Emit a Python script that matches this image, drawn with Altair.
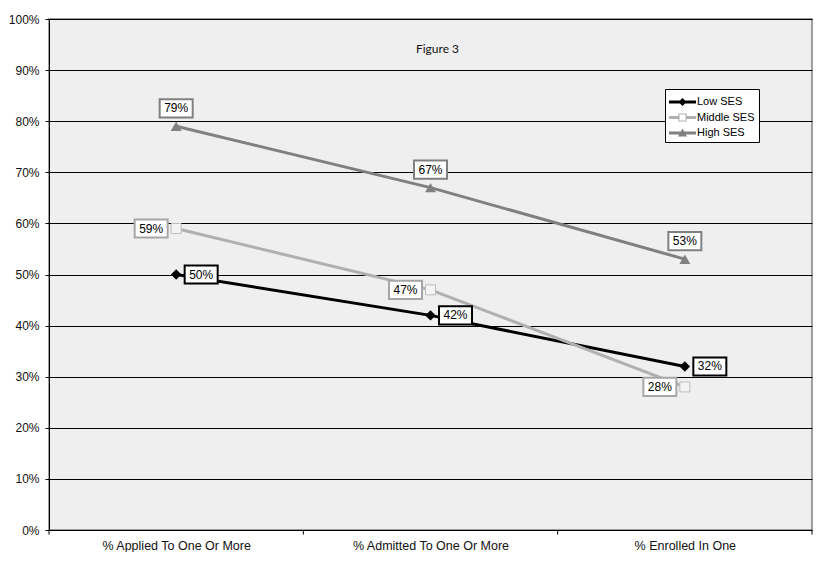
import json
import altair as alt
import pandas as pd

categories = ["% Applied To One Or More", "% Admitted To One Or More", "% Enrolled In One"]
series_names = ["Low SES", "Middle SES", "High SES"]
low_ses = [0.50, 0.42, 0.32]
middle_ses = [0.59, 0.47, 0.28]
high_ses = [0.79, 0.67, 0.53]
y_ticks = [0.0, 0.1, 0.2, 0.3, 0.4, 0.5, 0.6, 0.7, 0.8, 0.9, 1.0]
x_bounds = [-0.5, 0.5, 1.5, 2.5]

rows = []
for name, vals in zip(series_names, [low_ses, middle_ses, high_ses]):
    for i, (c, v) in enumerate(zip(categories, vals)):
        rows.append({"series": name, "idx": i, "category": c, "value": v})
df = pd.DataFrame(rows)
bounds_df = pd.DataFrame({"b": x_bounds})

FONT = "Liberation Sans"
xscale = alt.Scale(domain=[-0.5, 2.5], nice=False, zero=False)
yscale = alt.Scale(domain=[0, 1], nice=False, zero=True)

label_expr = json.dumps(categories) + "[datum.value]"
x_axis = alt.Axis(values=[0, 1, 2], labelExpr=label_expr, tickSize=0, grid=False,
                  domainColor="black", domainWidth=1, labelPadding=9,
                  labelFont=FONT, labelFontSize=12.5, labelColor="#111", title=None)
x_enc = alt.X("idx:Q", scale=xscale, axis=x_axis)
y_enc = alt.Y("value:Q", scale=yscale,
              axis=alt.Axis(values=y_ticks, format=".0%", grid=True, gridColor="black",
                            gridWidth=1, gridOpacity=1, domainColor="black", tickColor="black",
                            tickSize=4, labelPadding=6, labelFont=FONT, labelFontSize=12,
                            labelColor="#111", title=None))

styles = {
    "Low SES": dict(color="#000000", box="#000000", shape="diamond", size=110, fill="#000000",
                    stroke="#000000", sw=0, dx=25, dy=0),
    "Middle SES": dict(color="#b0b0b0", box="#a6a6a6", shape="square", size=100, fill="#f4f4f4",
                       stroke="#bdbdbd", sw=1, dx=-25, dy=0),
    "High SES": dict(color="#808080", box="#808080", shape="triangle-up", size=120, fill="#808080",
                     stroke="#808080", sw=0, dx=0, dy=-18),
}

box_path = "M-1,-0.55H1V0.55H-1Z"

layers = []
for name in series_names:
    s = styles[name]
    sub = alt.Chart(df).transform_filter(alt.datum.series == name)
    layers.append(sub.mark_line(color=s["color"], strokeWidth=3).encode(x=x_enc, y=y_enc))
for name in series_names:
    s = styles[name]
    sub = alt.Chart(df).transform_filter(alt.datum.series == name)
    layers.append(sub.mark_point(shape=s["shape"], size=s["size"], filled=True, fill=s["fill"],
                                 stroke=s["stroke"], strokeWidth=s["sw"], opacity=1)
                  .encode(x=x_enc, y=y_enc))
    layers.append(sub.mark_point(shape=box_path, size=1089, filled=True, fill="white",
                                 stroke=s["box"], strokeWidth=2, opacity=1,
                                 xOffset=s["dx"], yOffset=s["dy"])
                  .encode(x=x_enc, y=y_enc))
    layers.append(sub.mark_text(dx=s["dx"], dy=s["dy"], font=FONT, fontSize=12, color="black",
                                baseline="middle", align="center")
                  .encode(x=x_enc, y=y_enc, text=alt.Text("value:Q", format=".0%")))

# x-axis tick marks at category boundaries
layers.append(
    alt.Chart(bounds_df).mark_rule(color="black", strokeWidth=1).encode(
        x=alt.X("b:Q", scale=xscale, axis=x_axis),
        y=alt.Y(datum=0, scale=yscale),
        y2=alt.Y2(datum=-0.009),
    )
)

# legend (built from scale domain only)
legend_paths = [
    "M-1,-0.17H2V0.17H-1Z M0.5,-0.45L0.95,0L0.5,0.45L0.05,0Z",
    "M-1,-0.17H0.1V0.17H-1Z M0.9,-0.17H2V0.17H0.9Z M0.05,-0.45H0.95V0.45H0.05Z M0.17,-0.33V0.33H0.83V-0.33Z",
    "M-1,-0.17H2V0.17H-1Z M0.5,-0.5L1.0,0.38L0.0,0.38Z",
]
leg = alt.Legend(orient="none", legendX=616, legendY=70, title=None, fillColor="white",
                 strokeColor="black", padding=4, symbolSize=324, symbolStrokeWidth=0,
                 labelOffset=10, rowPadding=1.5, labelFont=FONT, labelFontSize=11,
                 labelColor="black")
layers.append(
    alt.Chart(df).transform_filter("false").mark_point(filled=True, opacity=1).encode(
        x=x_enc, y=y_enc,
        color=alt.Color("series:N", scale=alt.Scale(domain=series_names,
                                                    range=["#000000", "#b0b0b0", "#808080"]),
                        legend=leg),
        shape=alt.Shape("series:N", scale=alt.Scale(domain=series_names, range=legend_paths),
                        legend=leg),
    )
)

chart = alt.layer(*layers).properties(
    width=763, height=511,
    autosize=alt.AutoSizeParams(type="none"),
    padding={"left": 41, "top": 11, "right": 5, "bottom": 22},
    title=alt.TitleParams("Figure 3", font="Lato", fontSize=12, fontWeight="normal",
                          anchor="middle", color="#111", offset=-43, dx=7),
).configure_view(fill="#efefef", stroke="#808080", strokeWidth=1.5)

chart.save("out.html", embed_options={"renderer": "svg", "actions": False})
